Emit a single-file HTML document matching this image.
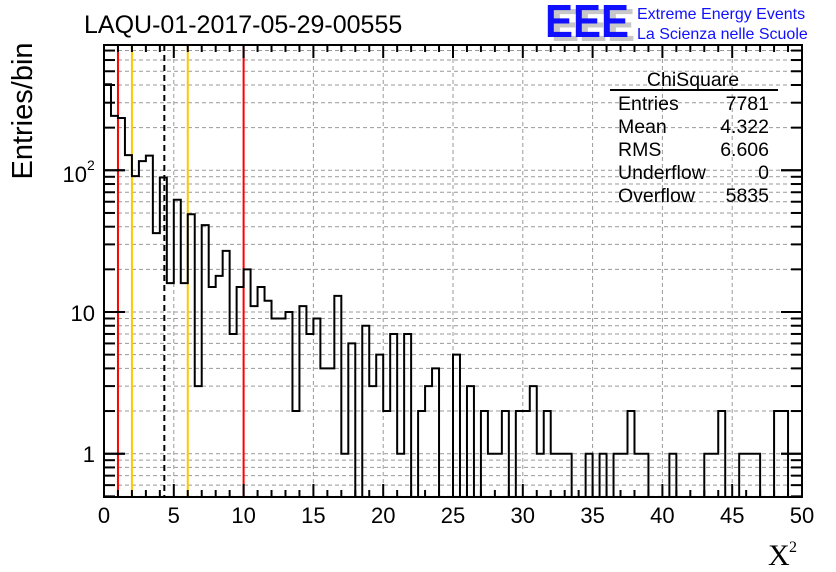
<!DOCTYPE html>
<html><head><meta charset="utf-8"><style>
body{margin:0;background:#fff}
svg{display:block;font-family:"Liberation Sans",sans-serif}
</style></head><body>
<svg id="chart" width="836" height="572" viewBox="0 0 836 572" xmlns="http://www.w3.org/2000/svg">
<rect width="836" height="572" fill="#fff"/>
<g id="grid"></g>
<g id="vlines"></g>
<path id="hist" fill="none" stroke="#000" stroke-width="2"/>
<g id="ticks"></g>
<rect x="104" y="45" width="698" height="452" fill="none" stroke="#000" stroke-width="2"/>
<g id="xlabels" font-size="22" text-anchor="middle"></g>
<g font-size="22" text-anchor="end">
<text x="95" y="462">1</text>
<text x="95" y="321">10</text>
<text x="87" y="182">10</text>
<text x="87" y="170" font-size="14" text-anchor="start">2</text>
</g>
<text x="84" y="33" font-size="25">LAQU-01-2017-05-29-00555</text>
<text transform="translate(32,111) rotate(-90)" font-size="29" text-anchor="middle">Entries/bin</text>
<text x="768" y="565" font-family="Liberation Serif,serif" font-size="30">X</text>
<text x="789" y="552" font-family="Liberation Serif,serif" font-size="16">2</text>
<g>
<text x="551" y="41" font-size="46" font-weight="bold" fill="#c8c8c8" textLength="84" lengthAdjust="spacingAndGlyphs">EEE</text>
<text x="545" y="37" font-size="46" font-weight="bold" fill="#1010ff" textLength="84" lengthAdjust="spacingAndGlyphs">EEE</text>
<text x="637" y="19" font-size="16" fill="#1010ff">Extreme Energy Events</text>
<text x="637" y="39" font-size="16" fill="#1010ff">La Scienza nelle Scuole</text>
</g>
<g font-size="19.5">
<text x="693" y="86" text-anchor="middle">ChiSquare</text>
<line x1="610" y1="90" x2="778" y2="90" stroke="#000" stroke-width="2"/>
<text x="618" y="110">Entries</text><text x="769" y="110" text-anchor="end">7781</text>
<text x="618" y="133">Mean</text><text x="769" y="133" text-anchor="end">4.322</text>
<text x="618" y="156">RMS</text><text x="769" y="156" text-anchor="end">6.606</text>
<text x="618" y="179">Underflow</text><text x="769" y="179" text-anchor="end">0</text>
<text x="618" y="202">Overflow</text><text x="769" y="202" text-anchor="end">5835</text>
</g>
</svg>
<script>
const binWidth = 0.5;
const counts = [405,242,234,128,91,116,127,36,89,16,
62,16,49,3,41,15,18,27,7,15,
20,11,15,12,9,9,10,2,11,7,
9,4,4,13,1,6,0,8,3,5,
2,7,1,7,0,2,3,4,0,0,
5,0,3,0,2,1,1,2,0,2,
2,3,1,2,1,1,1,0,0,1,
0,1,0,1,1,2,1,1,0,0,
0,1,0,0,0,0,1,1,2,0,
0,1,1,1,0,0,2,2,0,0];
const xTicks = [0,5,10,15,20,25,30,35,40,45,50];
const refLines = [{x:1,c:"#ff0000",d:""},{x:10,c:"#ff0000",d:""},{x:2,c:"#ffc800",d:""},{x:6,c:"#ffc800",d:""},{x:4.322,c:"#000",d:"6,4"}];

const X0=104,X1=802,Y0=45,Y1=497;
const xs = v => X0 + (v/50)*(X1-X0);
const ymin=0.495;
const ys = v => v<=ymin ? Y1 : 453.7 - 141.7*Math.log10(v);
const NS="http://www.w3.org/2000/svg";
function mk(tag,attrs,parent){const e=document.createElementNS(NS,tag);for(const k in attrs)e.setAttribute(k,attrs[k]);parent.appendChild(e);return e;}

const grid=document.getElementById('grid');
xTicks.forEach(t=>{ if(t>0&&t<50){const l=mk('line',{x1:xs(t),x2:xs(t),y1:Y0,y2:Y1,stroke:'#999','stroke-dasharray':'4,3'},grid);

}});
const yGridVals=[];
[1,10,100].forEach(d=>{for(let m=1;m<10;m++){const v=d*m;if(ys(v)>Y0&&ys(v)<Y1)yGridVals.push(v);}});
[0.5,0.6,0.7,0.8,0.9].forEach(v=>{if(ys(v)<Y1)yGridVals.push(v);});
yGridVals.forEach(v=>{const l=mk('line',{x1:X0,x2:X1,y1:ys(v),y2:ys(v),stroke:'#999','stroke-dasharray':'4,3'},grid);

});

const vl=document.getElementById('vlines');
refLines.forEach(r=>{const l=mk('line',{x1:xs(r.x),x2:xs(r.x),y1:Y0,y2:Y1,stroke:r.c,'stroke-width':2},vl);if(r.d)l.setAttribute('stroke-dasharray',r.d);

});

let d='M'+xs(0)+','+Y1;
counts.forEach((c,i)=>{const y=ys(c);d+=' L'+xs(i*binWidth)+','+y+' L'+xs((i+1)*binWidth)+','+y;});
d+=' L'+xs(counts.length*binWidth)+','+Y1;
document.getElementById('hist').setAttribute('d',d);

const tk=document.getElementById('ticks');
for(let t=0;t<=50;t++){const L=t%5===0?13:7;
mk('line',{x1:xs(t),x2:xs(t),y1:Y1,y2:Y1-L,stroke:'#000','stroke-width':2},tk);
mk('line',{x1:xs(t),x2:xs(t),y1:Y0,y2:Y0+L,stroke:'#000','stroke-width':2},tk);}
yGridVals.concat([1,10,100]).forEach(v=>{const major=[1,10,100].includes(v);const L=major?21:11;
mk('line',{x1:X0,x2:X0+L,y1:ys(v),y2:ys(v),stroke:'#000','stroke-width':2},tk);
mk('line',{x1:X1,x2:X1-L,y1:ys(v),y2:ys(v),stroke:'#000','stroke-width':2},tk);});

const xl=document.getElementById('xlabels');
xTicks.forEach(t=>{const e=mk('text',{x:xs(t),y:523},xl);e.textContent=t;

});
</script>
</body></html>
